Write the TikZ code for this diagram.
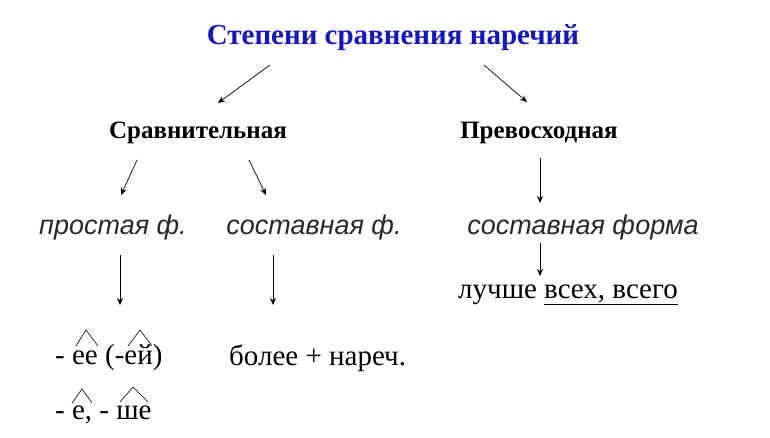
\documentclass[tikz,border=0pt]{standalone}
\usepackage{fontspec}
\setmainfont{Liberation Serif}
\newfontfamily\ars{Liberation Sans}
\usetikzlibrary{arrows.meta}
\begin{document}
\begin{tikzpicture}[x=1pt,y=-1pt,
  arr/.style={-{Stealth[length=7pt,width=6pt]},line width=0.7pt},
  hd/.style={font=\fontsize{25}{28}\selectfont\bfseries,inner sep=0},
  it/.style={font=\ars\fontsize{27}{30}\selectfont\itshape,inner sep=0,text={rgb,255:red,40;green,40;blue,40}},
  sr/.style={font=\fontsize{29}{32}\selectfont,inner sep=0,anchor=west},
  cr/.style={line width=0.6pt}]
\useasboundingbox (0,0) rectangle (770,438);
\node[font=\fontsize{29}{32}\selectfont\bfseries,text={rgb,255:red,20;green,20;blue,200},inner sep=0] (t) at (393,38) {Степени сравнения наречий};
\node[hd] (s) at (198,133) {Сравнительная};
\node[hd] (p) at (539,133) {Превосходная};
\node[it] (ps) at (113,228) {простая ф.};
\node[it] (ss) at (314,228) {составная ф.};
\node[it] (sf) at (583,228) {составная форма};
\node[sr] (l) at (458,295) {лучше \underline{всех, всего}};
\node[sr] (e1) at (55,358) {- ее (-ей)};
\node[sr] (b) at (229,358) {более + нареч.};
\node[sr] (e2) at (55,415) {- е, - ше};
\draw[arr] (270,65) -- (218,103);
\draw[arr] (484,65) -- (527,102);
\draw[arr] (137,160) -- (121,195);
\draw[arr] (249,160) -- (266,195);
\draw[arr] (540,158) -- (540,203);
\draw[arr] (120,255) -- (120,305);
\draw[arr] (273,255) -- (273,305);
\draw[arr] (540,243) -- (540,276);
\draw[cr] (76,346) -- (86,330) -- (98,346);
\draw[cr] (128,346) -- (140,330) -- (152,346);
\draw[cr] (72,403) -- (82,389) -- (92,403);
\draw[cr] (120,402) -- (133,387) -- (148,402);
\end{tikzpicture}
\end{document}
